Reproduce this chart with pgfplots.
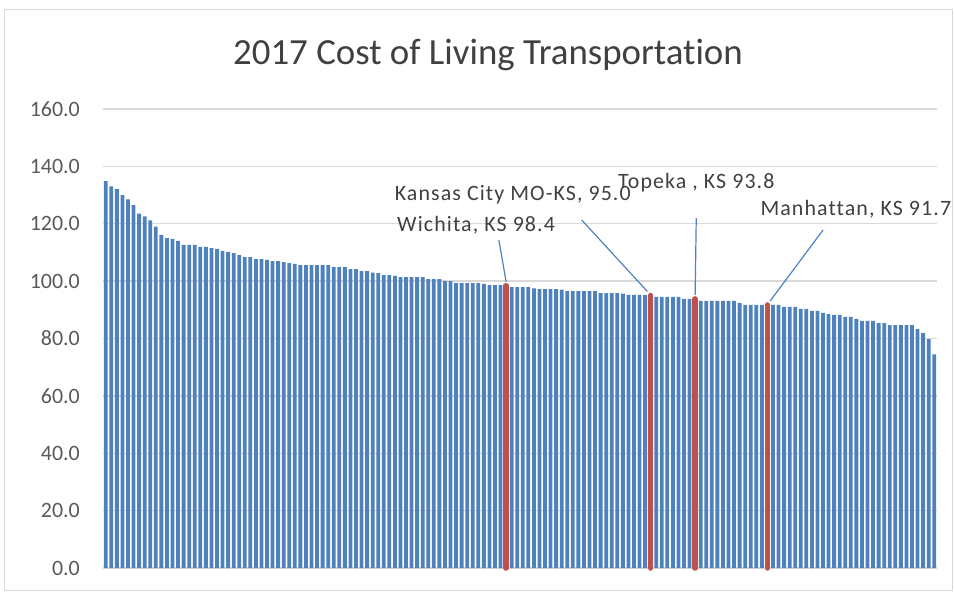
\documentclass[border=0pt]{standalone}
\usepackage{pgfplots}
\pgfplotsset{compat=1.18}
\usepackage{pgfplotstable}
\usepackage{fontspec}
\setmainfont{Carlito}[Ligatures={NoCommon}]
\newfontfamily\lblfont[LetterSpace=5,Ligatures={NoCommon}]{Carlito}
\definecolor{barblue}{HTML}{4F81BD}
\definecolor{barred}{HTML}{C0504D}
\definecolor{gridgray}{HTML}{D9D9D9}
\definecolor{ticktext}{HTML}{595959}
\definecolor{titletext}{HTML}{404040}

\pgfplotstableread{
x y
0 134.9
1 133.0
2 132.1
3 130.0
4 128.5
5 126.5
6 123.5
7 122.6
8 121.2
9 119.0
10 116.1
11 115.0
12 114.7
13 114.0
14 112.6
15 112.6
16 112.6
17 111.9
18 111.9
19 111.5
20 111.2
21 110.5
22 110.2
23 109.8
24 109.1
25 108.4
26 108.4
27 107.7
28 107.7
29 107.4
30 107.0
31 107.0
32 106.6
33 106.3
34 106.0
35 105.6
36 105.6
37 105.6
38 105.6
39 105.6
40 105.6
41 104.9
42 104.9
43 104.9
44 104.2
45 104.2
46 103.5
47 103.5
48 103.0
49 102.8
50 102.1
51 102.1
52 101.8
53 101.4
54 101.4
55 101.4
56 101.4
57 101.4
58 100.7
59 100.7
60 100.7
61 100.0
62 100.0
63 99.3
64 99.3
65 99.3
66 99.3
67 99.3
68 99.0
69 98.6
70 98.6
71 98.6
72 98.4
73 97.9
74 97.9
75 97.9
76 97.9
77 97.5
78 97.2
79 97.2
80 97.2
81 97.2
82 97.0
83 96.5
84 96.5
85 96.5
86 96.5
87 96.5
88 96.5
89 95.8
90 95.8
91 95.8
92 95.8
93 95.6
94 95.2
95 95.2
96 95.2
97 95.1
98 95.0
99 94.5
100 94.5
101 94.5
102 94.5
103 94.5
104 93.8
105 93.8
106 93.8
107 93.1
108 93.1
109 93.1
110 93.1
111 93.1
112 93.1
113 93.1
114 92.4
115 91.7
116 91.7
117 91.7
118 91.7
119 91.7
120 91.7
121 91.7
122 91.0
123 91.0
124 91.0
125 90.3
126 90.3
127 89.6
128 89.6
129 88.9
130 88.5
131 88.2
132 88.2
133 87.5
134 87.5
135 86.8
136 86.1
137 86.1
138 86.1
139 85.4
140 85.4
141 84.7
142 84.7
143 84.7
144 84.7
145 84.7
146 83.3
147 81.9
148 79.8
149 74.5
}\costdata

\begin{document}
\begin{tikzpicture}
\useasboundingbox (-103bp,-24bp) rectangle (851bp,568bp);
\draw[gridgray, line width=1bp] (-98bp,-22bp) rectangle (849bp,558bp);
\node[font=\fontsize{37}{44}\selectfont, text=titletext] at (385bp,513bp) {2017 Cost of Living Transportation};
\begin{axis}[
  at={(0,0)}, anchor=south west,
  scale only axis, width=834bp, height=459bp,
  xmin=-0.5, xmax=149.5, ymin=0, ymax=160,
  ytick={0,20,...,160}, xtick=\empty,
  ymajorgrids, major grid style={gridgray, line width=1.3bp},
  axis line style={draw=none},
  tick style={draw=none},
  yticklabel style={font=\fontsize{22}{26}\selectfont, text=ticktext,
    anchor=east, inner sep=0pt, xshift=-23bp,
    /pgf/number format/fixed, /pgf/number format/fixed zerofill,
    /pgf/number format/precision=1, /pgf/number format/assume math mode=true},
  clip=false,
]
\addplot[ybar, bar width=3.8bp, fill=barblue, draw=none] table[x=x,y=y]{\costdata};
\addplot[ycomb, draw=barred, line width=5.5bp, line cap=round, mark=none]
  coordinates {(72,98.4) (98,95.0) (106,93.8) (119,91.7)};
\draw[barblue, line width=1.2bp] (axis cs:70.7,114.3) -- (axis cs:72,99.8);
\draw[barblue, line width=1.2bp] (axis cs:85.6,121.3) -- (axis cs:97.4,96.4);
\draw[barblue, line width=1.2bp] (axis cs:106.2,122.0) -- (axis cs:106,95.2);
\draw[barblue, line width=1.2bp] (axis cs:129.0,117.8) -- (axis cs:119.5,93.1);
\node[inner sep=1bp, font=\lblfont\fontsize{22}{26}\selectfont, text=titletext] at (axis cs:66.6,119.6) {Wichita, KS 98.4};
\node[inner sep=1bp, font=\lblfont\fontsize{22}{26}\selectfont, text=titletext] at (axis cs:73.2,130.2) {Kansas City MO-KS, 95.0};
\node[inner sep=1bp, font=\lblfont\fontsize{22}{26}\selectfont, text=titletext] at (axis cs:106.2,134.2) {Topeka , KS 93.8};
\node[inner sep=1bp, font=\lblfont\fontsize{22}{26}\selectfont, text=titletext] at (axis cs:134.9,125.1) {Manhattan, KS 91.7};
\end{axis}
\end{tikzpicture}
\end{document}
